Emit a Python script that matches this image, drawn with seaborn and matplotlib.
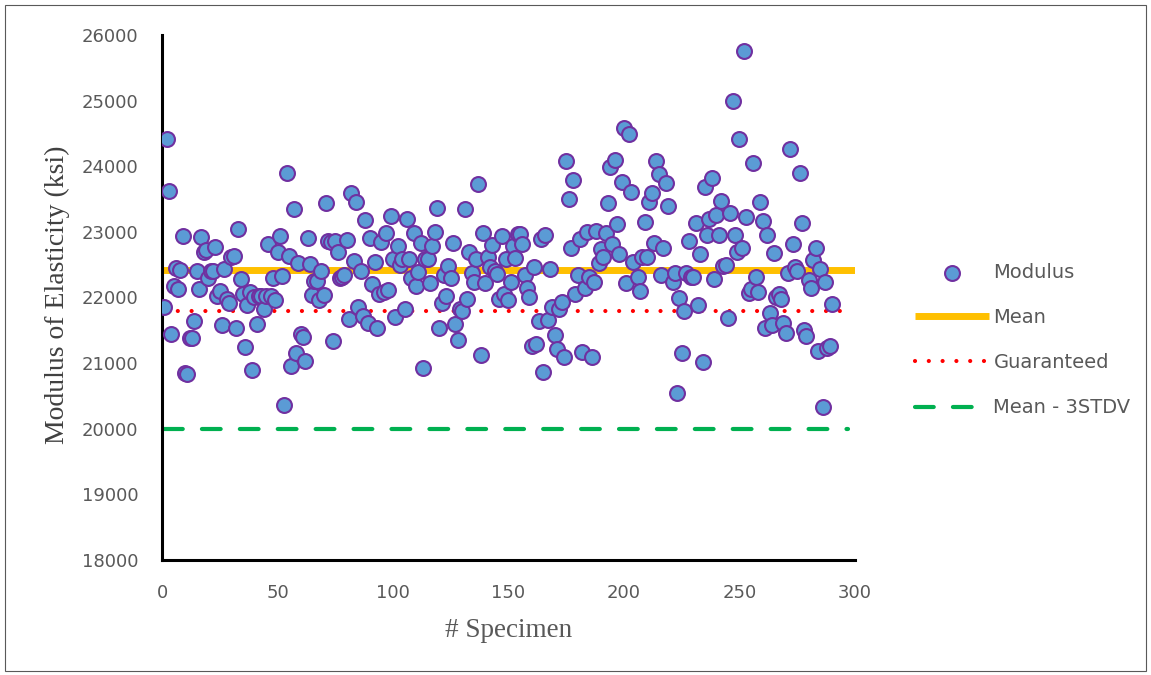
import numpy as np
import pandas as pd
import matplotlib
matplotlib.use("Agg")
import matplotlib.pyplot as plt
import matplotlib.patches as mpatches
import seaborn as sns

# ---- data ----
modulus = [
    21860, 24410, 23620, 21440, 22175, 22450, 22130, 22420, 22940, 20850,
    20830, 21380, 21380, 21640, 22410, 22130, 22925, 22700, 22730, 22290,
    22410, 22410, 22770, 22020, 22100, 21585, 22440, 21970, 21910, 22620,
    22630, 21530, 23040, 22285, 22060, 21250, 21880, 22090, 20890, 22010,
    21595, 22030, 22030, 21830, 22030, 22820, 22030, 22300, 21960, 22700,
    22940, 22330, 20360, 23890, 22640, 20955, 23350, 21150, 22520, 21440,
    21400, 21040, 22900, 22510, 22040, 22250, 22250, 21960, 22400, 22040,
    23435, 22860, 22840, 21340, 22860, 22700, 22300, 22320, 22340, 22870,
    21670, 23600, 22550, 23455, 21860, 22410, 21715, 23185, 21605, 22900,
    22200, 22535, 21530, 22060, 22850, 22090, 22980, 22120, 23245, 22580,
    21700, 22790, 22490, 22580, 21830, 23200, 22590, 22290, 22990, 22175,
    22390, 22830, 20930, 22580, 22580, 22215, 22780, 23000, 23370, 21540,
    21920, 22350, 22030, 22480, 22290, 22830, 21595, 21360, 21830, 21800,
    23345, 21970, 22700, 22370, 22230, 22580, 23725, 21120, 22990, 22225,
    22610, 22460, 22800, 22410, 22360, 21980, 22940, 22050, 22580, 21960,
    22240, 22790, 22600, 22970, 22970, 22810, 22350, 22150, 22010, 21260,
    22460, 21290, 21640, 22890, 20870, 22960, 21655, 22430, 21850, 21435,
    21210, 21830, 21930, 21090, 24080, 23495, 22750, 23790, 22060, 22350,
    22890, 21170, 22140, 23000, 22305, 21100, 22235, 23015, 22520, 22735,
    22620, 22990, 23445, 23990, 22810, 24100, 23115, 22670, 23760, 24590,
    22215, 24490, 23610, 22545, 22305, 22100, 22620, 23155, 22610, 23450,
    23590, 22830, 24080, 23875, 22340, 22750, 23750, 23395, 22240, 22370,
    20540, 22000, 21160, 21795, 22370, 22865, 22305, 22305, 23140, 21880,
    22670, 21020, 23680, 22950, 23190, 23815, 22280, 23255, 22950, 23465,
    22480, 22490, 21695, 23290, 24995, 22950, 22700, 24410, 22750, 25755,
    23230, 22070, 22135, 24045, 22315, 22090, 23460, 23170, 21530, 22955,
    21765, 21580, 22680, 22010, 22060, 21970, 21610, 21460, 22380, 24260,
    22810, 22460, 22410, 23900, 23140, 21500, 21415, 22265, 22150, 22570,
    22750, 21190, 22430, 20325, 22240, 21225, 21265, 21900,
]
# specimen numbers (no visible point at 205 and 220)
hidden_specimens = [205, 220]
specimen = [i for i in range(1, 291) if i not in hidden_specimens]

mean_value = 22420
guaranteed_value = 21800
mean_3stdv_value = 20000
line_x_mean = [0, 300]
line_x_other = [1, 297]

x_ticks = [0, 50, 100, 150, 200, 250, 300]
y_ticks = [18000, 19000, 20000, 21000, 22000, 23000, 24000, 25000, 26000]

# ---- styling ----
sns.set_theme(style="white")
plt.rcParams["font.family"] = ["DejaVu Sans"]

fig = plt.figure(figsize=(11.51, 6.75), dpi=100)
ax = fig.add_axes([162 / 1151, 1 - 560 / 675, 693 / 1151, 525 / 675])

df = pd.DataFrame({"Specimen": specimen, "Modulus": modulus})
sns.scatterplot(data=df, x="Specimen", y="Modulus", ax=ax, s=115,
                color="#5B9BD5", edgecolor="#7030A0", linewidth=1.5,
                label="Modulus", zorder=3)

sns.lineplot(x=line_x_mean, y=[mean_value] * 2, ax=ax, color="#FFC000",
             linewidth=5, label="Mean", solid_capstyle="butt", zorder=2)
sns.lineplot(x=line_x_other, y=[guaranteed_value] * 2, ax=ax, color="#FF0000",
             linewidth=3, linestyle=(0, (0.01, 3.3)), dash_capstyle="round",
             label="Guaranteed", zorder=2)
sns.lineplot(x=line_x_other, y=[mean_3stdv_value] * 2, ax=ax, color="#00B050",
             linewidth=3, linestyle=(0, (4.5, 4.6)), dash_capstyle="round",
             label="Mean - 3STDV", zorder=2)

ax.set_xlim(0, 300)
ax.set_ylim(18000, 26000)
ax.set_xticks(x_ticks)
ax.set_yticks(y_ticks)
ax.tick_params(axis="both", length=0, labelsize=13, labelcolor="#595959", pad=17)

for side in ["top", "right"]:
    ax.spines[side].set_visible(False)
for side in ["left", "bottom"]:
    ax.spines[side].set_color("black")
    ax.spines[side].set_linewidth(2.2)
ax.grid(False)

ax.set_ylabel("Modulus of Elasticity (ksi)", family=["Liberation Serif"],
              fontsize=20, color="#404040")
ax.yaxis.set_label_coords(-0.133, 0.505)
ax.set_xlabel("# Specimen", family=["Liberation Serif"], fontsize=19.5,
              color="#595959")
ax.xaxis.set_label_coords(0.5007, -0.11)

leg = ax.legend(loc="center left", bbox_to_anchor=(905 / 1151, 1 - 340 / 675),
                bbox_transform=fig.transFigure, frameon=False, fontsize=14,
                handlelength=3.8, handletextpad=0.25, labelspacing=1.35,
                borderpad=0)
for t in leg.get_texts():
    t.set_color("#595959")

fig.patches.append(mpatches.Rectangle((5 / 1151, 4 / 675), 1141 / 1151, 666 / 675,
                                      transform=fig.transFigure, fill=False,
                                      edgecolor="#595959", linewidth=0.8))

fig.savefig("out.png", dpi=100)
